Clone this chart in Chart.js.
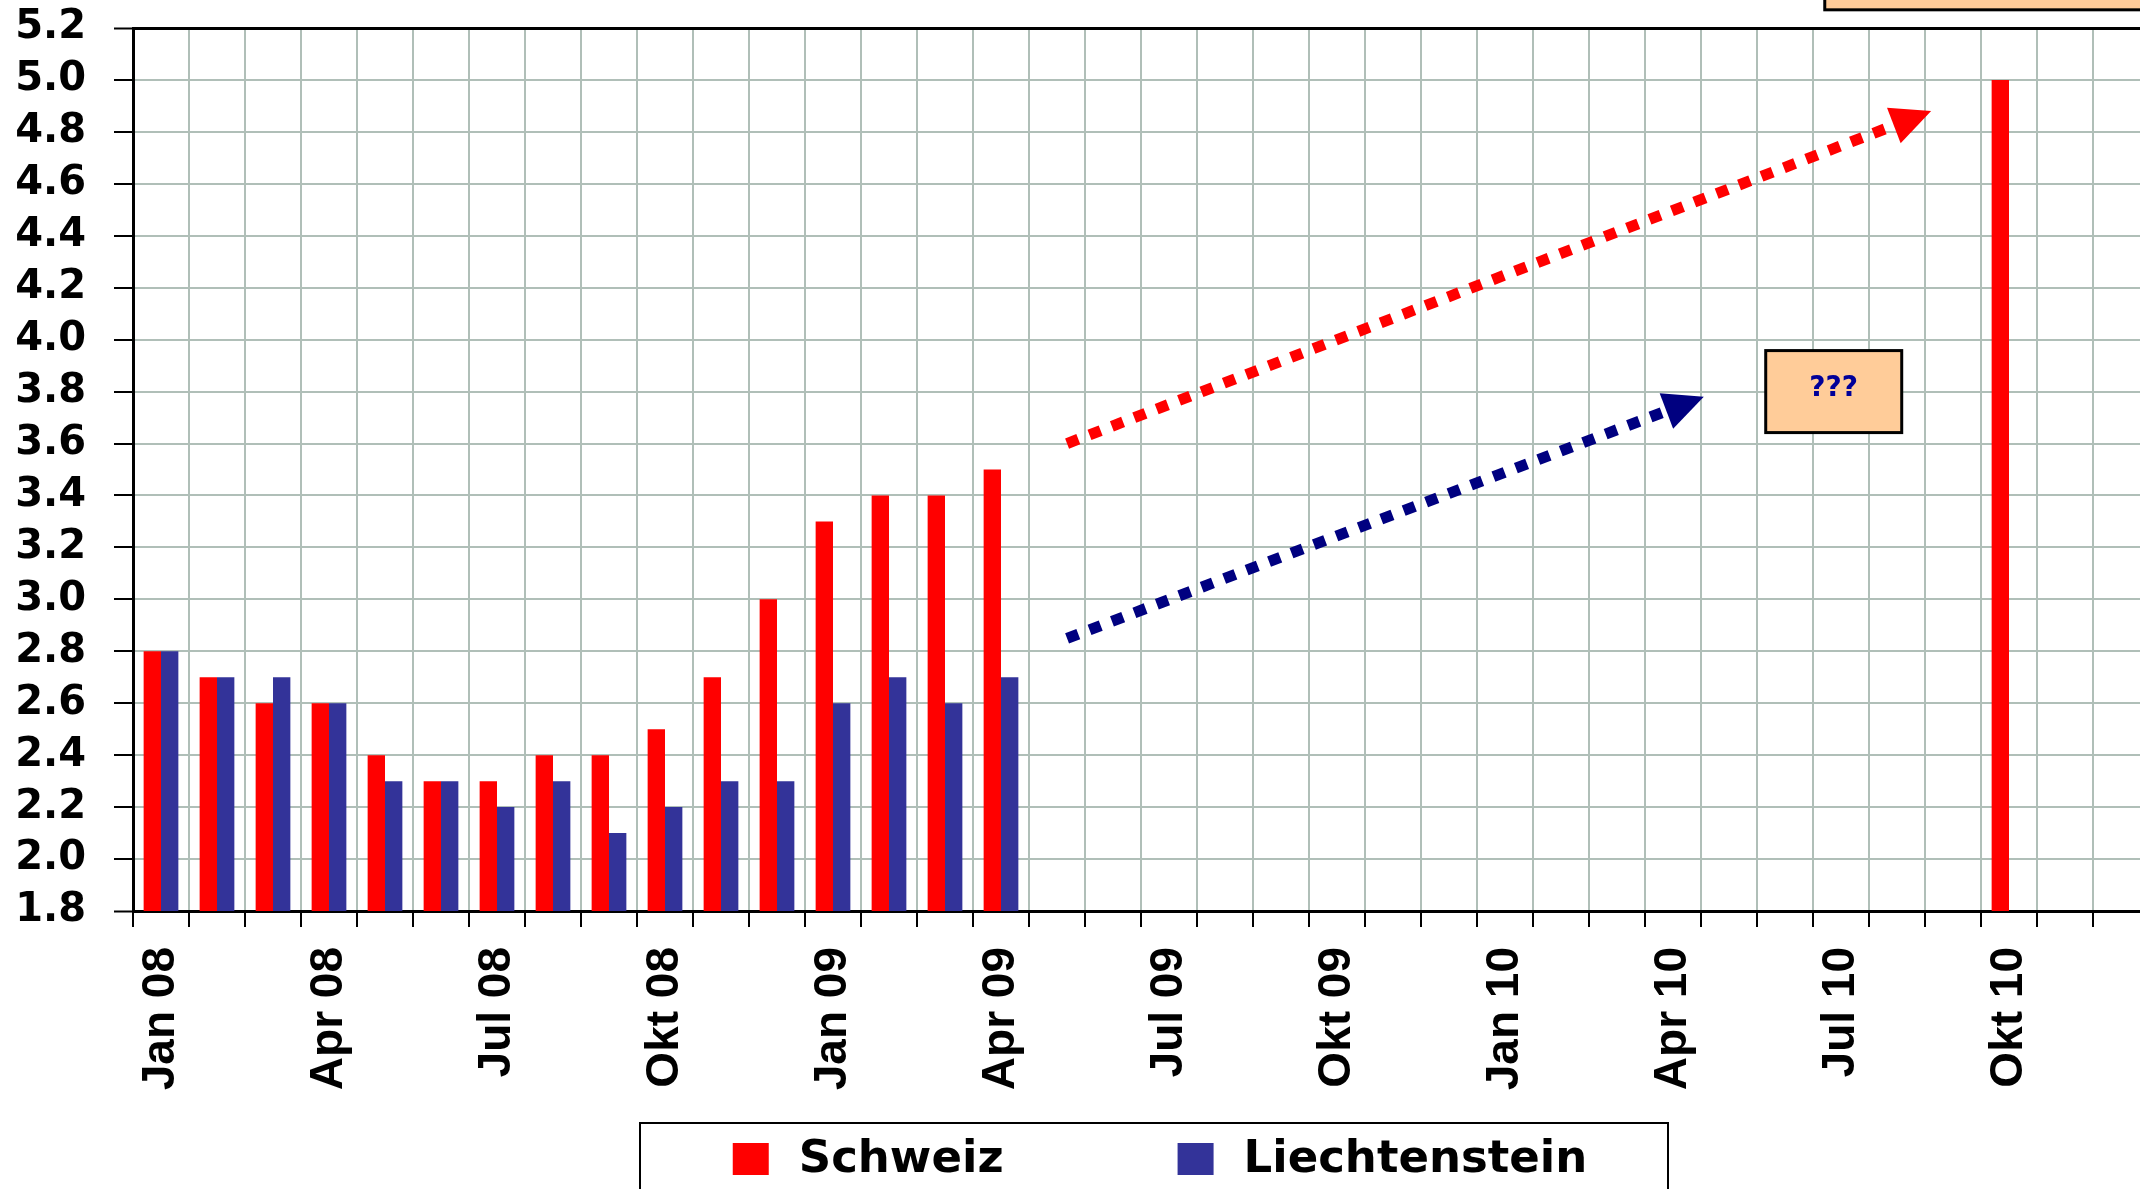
<!DOCTYPE html>
<html>
<head>
<meta charset="utf-8">
<script src="https://cdn.jsdelivr.net/npm/chart.js@4.4.1/dist/chart.umd.min.js"></script>
<style>
  html, body { margin: 0; padding: 0; overflow: hidden; background: #fff; }
  canvas { display: block; }
</style>
</head>
<body>
<canvas id="chart" width="2160" height="1189"></canvas>
<script>
  const months = ['Jan', 'Feb', 'Mär', 'Apr', 'Mai', 'Jun', 'Jul', 'Aug', 'Sep', 'Okt', 'Nov', 'Dez'];
  const years = ['08', '09', '10'];
  const categories = [];
  years.forEach(y => months.forEach(m => categories.push(m + ' ' + y)));
  const labelledMonths = ['Jan', 'Apr', 'Jul', 'Okt'];

  const yTicks = { min: 1.8, max: 5.2, step: 0.2 };

  const schweiz = [
    2.8, 2.7, 2.6, 2.6, 2.4, 2.3, 2.3, 2.4, 2.4, 2.5, 2.7, 3.0,
    3.3, 3.4, 3.4, 3.5, null, null, null, null, null, null, null, null,
    null, null, null, null, null, null, null, null, null, 5.0, null, null
  ];
  const liechtenstein = [
    2.8, 2.7, 2.7, 2.6, 2.3, 2.3, 2.2, 2.3, 2.1, 2.2, 2.3, 2.3,
    2.6, 2.7, 2.6, 2.7, null, null, null, null, null, null, null, null,
    null, null, null, null, null, null, null, null, null, null, null, null
  ];

  // trend arrows, x = category index (fractional), y = value
  const redArrow = [{ x: 16.18, y: 3.60 }, { x: 31.61, y: 4.88 }];
  const blueArrow = [{ x: 16.18, y: 2.85 }, { x: 27.55, y: 3.78 }];
  const arrows = [
    { points: redArrow, color: '#ff0000' },
    { points: blueArrow, color: '#000080' }
  ];

  // note boxes
  const questionNote = { x: 29.87, y: 3.80, text: '???' };
  const cornerNote = { x: 29.71, y: 5.27 };

  function hasFont(name) {
    const c = document.createElement('canvas').getContext('2d');
    const s = 'Jan 08 Okt 10';
    c.font = 'bold 40px monospace';
    const a = c.measureText(s).width;
    c.font = 'bold 40px "' + name + '", monospace';
    const b = c.measureText(s).width;
    c.font = 'bold 40px serif';
    const d = c.measureText(s).width;
    c.font = 'bold 40px "' + name + '", serif';
    const e = c.measureText(s).width;
    return a !== b && d !== e;
  }
  const narrow = hasFont('Liberation Sans Narrow');
  const xFont = narrow
    ? { family: '"Liberation Sans Narrow"', size: 55, weight: 'bold' }
    : { family: '"Liberation Sans", Arial', size: 46, weight: 'bold' };

  const gridCol = '#b0bfb8';

  const trendArrows = {
    id: 'trendArrows',
    afterDatasetsDraw(chart) {
      const ctx = chart.ctx;
      const xs = chart.scales.x, ys = chart.scales.y;
      arrows.forEach(ar => {
        const [p, q] = ar.points;
        const x0 = xs.getPixelForValue(p.x), y0 = ys.getPixelForValue(p.y);
        const x1 = xs.getPixelForValue(q.x), y1 = ys.getPixelForValue(q.y);
        const ang = Math.atan2(y1 - y0, x1 - x0);
        ctx.save();
        ctx.strokeStyle = ar.color;
        ctx.lineWidth = 11;
        ctx.lineCap = 'butt';
        ctx.setLineDash([12, 12]);
        ctx.beginPath();
        ctx.moveTo(x0, y0);
        ctx.lineTo(x1 - 30 * Math.cos(ang), y1 - 30 * Math.sin(ang));
        ctx.stroke();
        ctx.setLineDash([]);
        ctx.translate(x1, y1);
        ctx.rotate(ang);
        ctx.beginPath();
        ctx.moveTo(0, 0);
        ctx.lineTo(-40, -19);
        ctx.lineTo(-40, 19);
        ctx.closePath();
        ctx.fillStyle = ar.color;
        ctx.fill();
        ctx.restore();
      });
    }
  };

  const notes = {
    id: 'notes',
    afterDraw(chart) {
      const ctx = chart.ctx;
      const xs = chart.scales.x, ys = chart.scales.y;
      ctx.save();
      ctx.fillStyle = '#ffcc99';
      ctx.strokeStyle = '#000';
      ctx.lineWidth = 3;

      const cx = xs.getPixelForValue(questionNote.x);
      const cy = ys.getPixelForValue(questionNote.y);
      ctx.fillRect(cx - 68, cy - 41, 136, 82);
      ctx.strokeRect(cx - 68, cy - 41, 136, 82);
      ctx.fillStyle = '#000099';
      ctx.font = narrow ? 'bold 31px "Liberation Sans Narrow"' : 'bold 28px "DejaVu Sans"';
      ctx.textAlign = 'center';
      ctx.textBaseline = 'middle';
      ctx.fillText(questionNote.text, cx, cy - 3);

      const lx = xs.getPixelForValue(cornerNote.x);
      const by = ys.getPixelForValue(cornerNote.y);
      ctx.fillStyle = '#ffcc99';
      ctx.fillRect(lx, -20, 600, by + 20);
      ctx.strokeRect(lx, -20, 600, by + 20);
      ctx.restore();
    }
  };

  const boxLegend = {
    id: 'boxLegend',
    afterDraw(chart) {
      const ctx = chart.ctx;
      ctx.save();
      ctx.strokeStyle = '#000';
      ctx.lineWidth = 2;
      ctx.strokeRect(640, 1123, 1028, 100);
      ctx.font = 'bold 45px "DejaVu Sans"';
      ctx.textBaseline = 'middle';
      const items = chart.data.datasets;
      const gap = 174;
      let total = 0;
      items.forEach((d, i) => { total += 36 + 30 + ctx.measureText(d.label).width + (i ? gap : 0); });
      let x = 1160 - total / 2;
      items.forEach(d => {
        ctx.fillStyle = d.backgroundColor;
        ctx.fillRect(x, 1143, 36, 32);
        ctx.fillStyle = '#000';
        ctx.fillText(d.label, x + 66, 1160);
        x += 36 + 30 + ctx.measureText(d.label).width + gap;
      });
      ctx.restore();
    }
  };

  const isEdge = v => Math.abs(v - yTicks.min) < 1e-6 || Math.abs(v - yTicks.max) < 1e-6;

  new Chart(document.getElementById('chart'), {
    type: 'bar',
    data: {
      labels: categories,
      datasets: [
        {
          label: 'Schweiz',
          data: schweiz,
          backgroundColor: '#ff0000',
          categoryPercentage: 0.62,
          barPercentage: 1.0
        },
        {
          label: 'Liechtenstein',
          data: liechtenstein,
          backgroundColor: '#333399',
          categoryPercentage: 0.62,
          barPercentage: 1.0
        }
      ]
    },
    options: {
      responsive: false,
      animation: false,
      devicePixelRatio: 1,
      layout: { padding: { top: 28, right: 11, bottom: 88, left: 0 } },
      scales: {
        x: {
          type: 'category',
          offset: true,
          grid: {
            offset: true,
            color: c => c.index === 0 ? '#000' : gridCol,
            lineWidth: 2,
            tickLength: 16,
            tickColor: '#000',
            tickWidth: 2
          },
          border: { color: '#000', width: 3 },
          ticks: {
            autoSkip: false,
            minRotation: 90,
            maxRotation: 90,
            padding: 20,
            color: '#000',
            font: xFont,
            callback: function (v, i) {
              return labelledMonths.includes(months[i % 12]) ? categories[i] : '';
            }
          },
          afterFit(s) {
            s.height = 190;
            s.paddingLeft = 0;
            s.paddingRight = 0;
          }
        },
        y: {
          min: yTicks.min,
          max: yTicks.max,
          ticks: {
            stepSize: yTicks.step,
            autoSkip: false,
            padding: 28,
            color: '#000',
            font: { family: '"DejaVu Sans"', size: 40, weight: 'bold' },
            callback: v => v.toFixed(1)
          },
          grid: {
            color: c => isEdge(c.tick.value) ? '#000' : gridCol,
            lineWidth: c => isEdge(c.tick.value) ? 3 : 2,
            tickLength: 19,
            tickColor: '#000',
            tickWidth: 2
          },
          border: { color: '#000', width: 3 },
          afterFit(s) {
            s.width = 133;
            s.paddingTop = 0;
            s.paddingBottom = 0;
          }
        }
      },
      plugins: {
        legend: { display: false },
        tooltip: { enabled: false }
      }
    },
    plugins: [trendArrows, notes, boxLegend]
  });
</script>
</body>
</html>
